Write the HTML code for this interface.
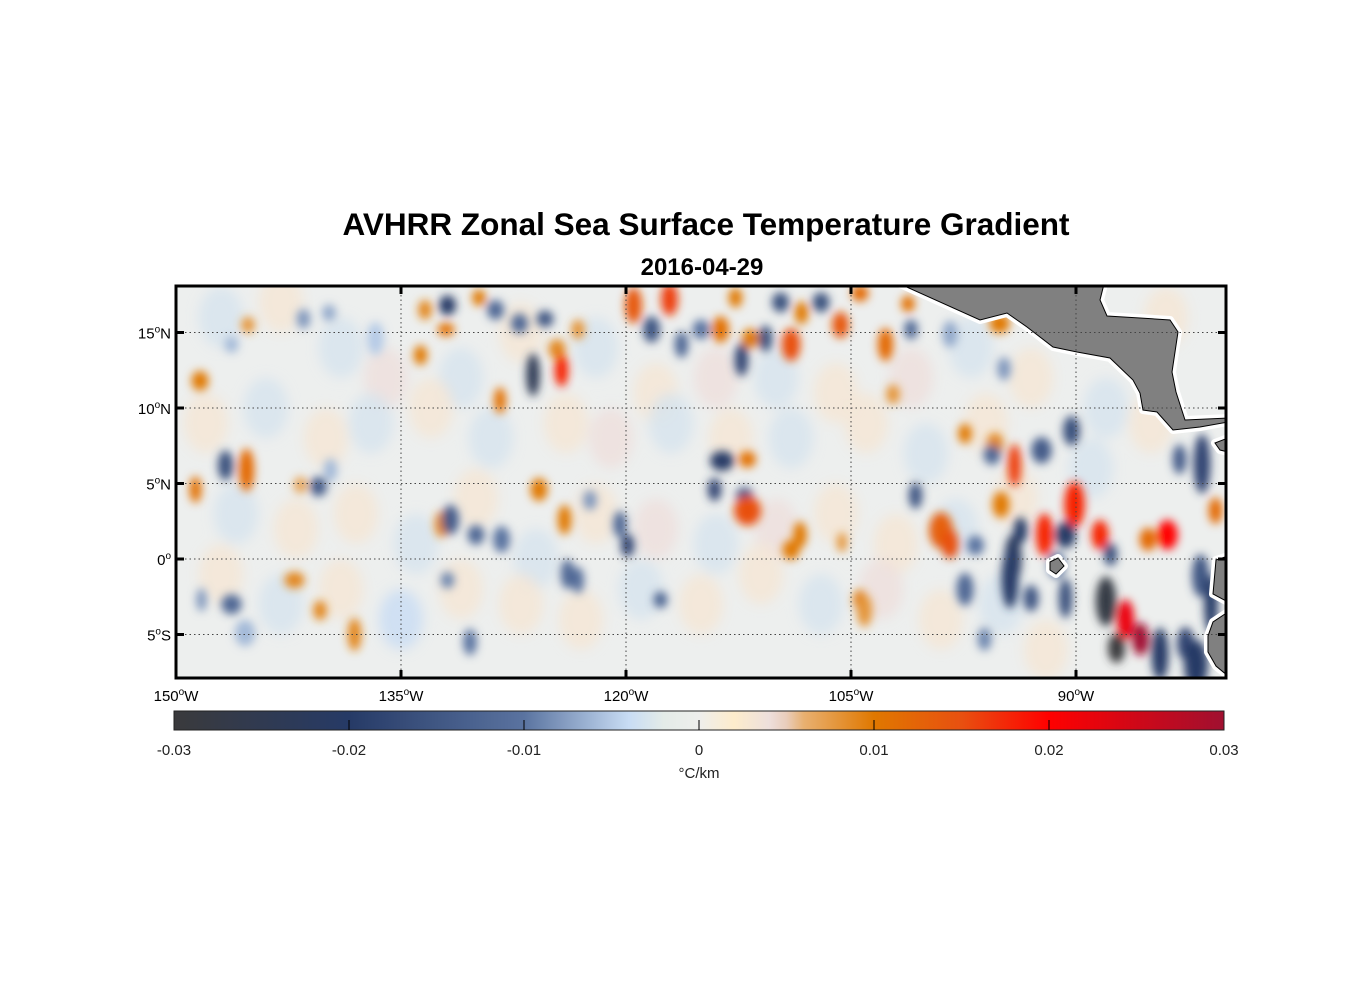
<!DOCTYPE html>
<html><head><meta charset="utf-8"><style>
body{margin:0;background:#fff;}
svg{display:block;font-family:"Liberation Sans",Arial,sans-serif;}
</style></head><body>
<svg id="chart" width="1356" height="1000">
<defs>
<clipPath id="mapclip"><rect x="176" y="286" width="1050" height="392"/></clipPath>
<filter id="blur" x="-20%" y="-20%" width="140%" height="140%"><feGaussianBlur stdDeviation="4.5"/></filter>
<filter id="blur2" x="-20%" y="-20%" width="140%" height="140%"><feGaussianBlur stdDeviation="6"/></filter>
<linearGradient id="cbgrad" x1="0" x2="1" y1="0" y2="0"></linearGradient>
</defs>
<text x="706" y="235" text-anchor="middle" font-size="31.5" font-weight="bold">AVHRR Zonal Sea Surface Temperature Gradient</text>
<text x="702" y="275" text-anchor="middle" font-size="24" font-weight="bold">2016-04-29</text>
<g id="map" clip-path="url(#mapclip)">
<rect x="176" y="286" width="1050" height="392" fill="#edefee"/>
<g id="faint" filter="url(#blur2)"></g>
<g id="blobs" filter="url(#blur)"></g>
<g id="land"></g>
<g id="grid"></g>
</g>
<rect x="176" y="286" width="1050" height="392" fill="none" stroke="#000" stroke-width="3"/>
<g id="ticks"></g>
<g id="colorbar"></g>
</svg>
<script>
const NS="http://www.w3.org/2000/svg";
const lonTicks=[-150,-135,-120,-105,-90];
const lonLabels=["150","135","120","105","90"];
const latTicks=[15,10,5,0,-5];
const latLabels=["15","10","5","0","5"];
const cbTicks=[-0.03,-0.02,-0.01,0,0.01,0.02,0.03];
const cbLabels=["-0.03","-0.02","-0.01","0","0.01","0.02","0.03"];
// blob data: lon, lat, half-width (deg), half-height (deg), value (°C/km)
const blobLon=[-148.4,-146.3,-145.2,-141.5,-139.8,-136.7,-133.7,-131.9,-132,-133.4,-128.7,-129.8,-128.4,-127.1,-125.4,-124.6,-126.2,-124.3,-123.2,-119.5,-117.1,-118.3,-116.3,-115,-113.7,-111.7,-112.7,-112.3,-110.7,-109.7,-109,-108.3,-107,-105.7,-102.7,-104.4,-101.2,-101,-102.2,-98.4,-95.1,-94.8,
-148.7,-146.7,-145.3,-141.7,-140.5,-139.7,-132.3,-131.7,-130,-128.3,-125.8,-124.1,-122.4,-120.4,-119.9,-113.6,-111.9,-114.1,-112.1,-111.9,-108.4,-109,-105.6,-100.7,-99,-98.4,-96.7,-97.4,-95.4,-92.3,-94.1,-90.3,-93.7,-94.2,-94.4,-93,-92.1,-90.1,-90.7,-91.3,-88.4,-87.7,-90.7,-85.2,-83.9,-83.1,-81.6,-80.7,-81.7,-81,-86.7,-85.7,-84.4,-82.7,-82,-88,-87.3,-97.4,-95.6,-95,
-148.3,-146.3,-145.4,-142.1,-140.4,-138.1,-131.9,-130.4,-123.9,-123.2,-117.7,-104.4,-104.1,-96.1];
const blobLat=[11.8,14.2,15.5,15.9,16.3,14.6,13.5,16.8,15.2,16.5,16.5,17.3,10.5,15.6,15.9,13.9,12.2,12.5,15.2,16.8,17.2,15.2,14.2,15.2,15.2,14.6,17.3,13.2,14.6,17,14.2,16.3,17,15.5,14.2,17.6,16.9,15.2,10.9,14.9,15.6,12.6,
4.6,6.2,5.9,4.9,4.8,5.9,2.3,2.6,1.6,1.3,4.6,2.6,3.9,2.3,0.9,6.5,6.6,4.6,4.2,3.2,1.6,0.6,1.1,4.2,1.9,1,0.9,8.3,7.6,7.2,6.2,8.5,1.9,0,-1.3,-2.6,1.6,3.6,1.6,-0.4,1.6,0.3,-2.6,1.3,1.6,6.6,6.3,3.2,-1.1,-3,-4,-5.3,-6.3,-5.6,-7,-2.8,-5.9,-2,6.9,3.6,
-2.7,-3,-4.9,-1.4,-3.4,-5,-1.4,-5.5,-1,-1.4,-2.7,-2.7,-3.4,-5.3];
const blobRx=[0.5,0.4,0.4,0.4,0.4,0.5,0.4,0.5,0.5,0.4,0.5,0.4,0.35,0.5,0.5,0.5,0.4,0.4,0.4,0.5,0.5,0.5,0.4,0.5,0.5,0.5,0.4,0.4,0.4,0.5,0.55,0.4,0.5,0.5,0.45,0.5,0.4,0.4,0.4,0.45,0.6,0.4,
0.35,0.45,0.45,0.4,0.5,0.4,0.4,0.5,0.5,0.5,0.5,0.4,0.4,0.4,0.4,0.7,0.5,0.4,0.5,0.8,0.4,0.5,0.3,0.4,0.7,0.5,0.5,0.4,0.5,0.6,0.4,0.5,0.4,0.5,0.5,0.45,0.5,0.6,0.6,0.5,0.5,0.4,0.4,0.5,0.6,0.4,0.5,0.4,0.5,0.4,0.5,0.5,0.5,0.5,0.7,0.6,0.5,0.5,0.5,0.5,0.3,0.6,0.6,0.6,
0.4,0.4,0.4,0.4,0.4,0.35,0.4,0.4,0.45,0.4,0.5,0.5,0.4,0.5];
const blobRy=[0.6,0.5,0.5,0.6,0.5,1,0.6,0.6,0.4,0.6,0.6,0.5,0.8,0.6,0.5,0.6,1.3,1,0.6,1.1,1,0.8,0.8,0.6,0.8,0.6,0.6,1,0.8,0.6,1,0.7,0.6,0.8,1,0.5,0.5,0.6,0.6,0.8,0.6,0.7,
0.8,0.9,1.3,0.5,0.6,0.7,0.8,0.9,0.6,0.8,0.7,0.9,0.6,0.8,0.7,0.6,0.5,0.7,0.5,0.9,0.8,0.6,0.6,0.8,1.1,0.9,0.6,0.6,0.7,0.8,1.3,0.9,0.8,1.5,1.8,0.8,1.3,1.4,0.8,0.8,0.9,0.7,1.2,0.7,0.9,0.9,1.8,0.8,1.3,1.8,1.2,1,1.6,1,1.5,1.5,0.9,1,0.6,0.8,0.7,
0.6,0.8,0.5,0.6,1,0.5,0.8,0.9,0.8,0.5,0.6,1,0.7,0.6];
const blobVal=[0.010,-0.006,0.008,-0.008,-0.007,-0.005,0.010,-0.020,0.011,0.009,-0.012,0.010,0.011,-0.012,-0.015,0.009,-0.024,0.018,0.008,0.014,0.016,-0.015,-0.012,-0.010,0.011,0.010,0.010,-0.018,-0.016,-0.016,0.015,0.010,-0.016,0.014,0.012,0.012,0.011,-0.012,0.008,-0.007,0.010,-0.008,
0.011,-0.016,0.012,0.007,-0.014,-0.006,0.009,-0.014,-0.012,-0.010,0.010,0.010,-0.008,-0.012,-0.018,-0.020,0.011,-0.018,-0.015,0.015,0.010,0.010,0.008,-0.015,0.013,0.015,-0.010,0.010,0.009,-0.014,0.016,-0.016,-0.020,-0.022,-0.020,-0.015,0.018,0.018,-0.020,-0.012,0.018,-0.016,-0.016,0.012,0.020,-0.014,-0.018,0.012,-0.015,-0.020,0.022,0.030,-0.020,-0.018,-0.020,-0.028,-0.030,-0.012,-0.012,0.010,-0.008,-0.012,
-0.006,0.009,0.009,0.009,-0.009,-0.010,-0.012,-0.011,-0.013,0.010,0.008,-0.009,0.009,0.010];
// faint background texture blobs (weak gradients)
const faintLon=[-147,-143,-139,-136,-131,-127,-122,-118,-114,-110,-106,-101,-97,-93,-88,-84,-148,-144,-140,-137,-133,-129,-124,-121,-117,-113,-109,-104,-100,-96,-146,-142,-138,-134,-130,-126,-122,-118,-114,-110,-106,-102,-98,-94,-89,-85,-147,-143,-139,-135,-131,-127,-123,-119,-115,-111,-107,-103,-99,-95,-92];
const faintLat=[16,17,14,12,12,15,14,11,12,12,11,12,14,12,10,16,9,10,8,9,10,8,9,8,9,8,8,9,7,9,3,2,3,1,4,0,3,2,1,2,3,1,2,4,6,9,-1,-3,-2,-4,-2,-3,-4,-2,-3,-1,-3,-2,-4,-3,-6];
const faintVal=[-0.003,0.003,-0.003,0.004,-0.003,0.003,-0.003,0.003,0.004,-0.003,0.003,0.004,-0.003,0.003,-0.003,0.003,0.003,-0.003,0.003,-0.003,0.003,-0.003,0.003,0.004,-0.003,0.003,-0.003,0.003,-0.003,0.003,-0.003,0.003,0.003,-0.003,0.003,-0.003,0.003,0.004,-0.003,0.004,0.003,0.003,-0.003,0.003,-0.003,0.003,0.003,-0.003,0.003,-0.004,0.003,0.003,0.003,-0.003,0.003,0.003,-0.003,0.004,0.003,-0.003,0.003];

const X0=176,X1=1226,Y0=286,Y1=678;
const xOf=lon=>X0+(lon+150)*15;
const yOf=lat=>559-lat*15.1;
const cStops=[[-0.03,[58,58,60]],[-0.02,[38,58,102]],[-0.01,[90,115,160]],[-0.004,[200,220,244]],[-0.002,[228,236,232]],[0,[238,238,236]],[0.002,[253,236,204]],[0.0045,[234,220,224]],[0.006,[232,176,112]],[0.01,[224,120,0]],[0.015,[232,80,16]],[0.02,[255,0,0]],[0.03,[160,16,48]]];
function cmap(v){
  v=Math.max(-0.03,Math.min(0.03,v));
  for(let i=0;i<cStops.length-1;i++){
    const [a,ca]=cStops[i],[b,cb]=cStops[i+1];
    if(v<=b){const t=(v-a)/(b-a);const c=ca.map((x,k)=>Math.round(x+(cb[k]-x)*t));return `rgb(${c})`;}
  }
  return "rgb(160,16,48)";
}
function mk(tag,attrs,parent){const e=document.createElementNS(NS,tag);for(const k in attrs)e.setAttribute(k,attrs[k]);parent.appendChild(e);return e;}

const fg=document.getElementById('faint');
for(let i=0;i<faintLon.length;i++){
  const e=mk('ellipse',{cx:xOf(faintLon[i]),cy:yOf(faintLat[i]),rx:22,ry:30,fill:cmap(faintVal[i]),opacity:0.8},fg);
  
  
}
const bg=document.getElementById('blobs');
for(let i=0;i<blobLon.length;i++){
  const e=mk('ellipse',{cx:xOf(blobLon[i]),cy:yOf(blobLat[i]),rx:blobRx[i]*17,ry:blobRy[i]*16.5,fill:cmap(blobVal[i])},bg);
  
  
}
const land=document.getElementById('land');
const lands=[
 "900,284 980,320 1007,313 1027,327 1053,347 1077,352 1110,358 1133,380 1140,393 1143,410 1157,412 1173,430 1200,427 1228,422 1228,418 1185,420 1176,392 1172,372 1178,332 1170,320 1140,318 1107,316 1100,300 1104,284",
 "1228,556 1216,560 1213,594 1228,602",
 "1228,612 1213,622 1208,636 1208,652 1216,666 1228,676",
 "1050,562 1058,558 1064,566 1056,574 1050,570",
 "1215,443 1228,438 1228,452 1220,450"];
lands.forEach(p=>mk('polygon',{points:p,fill:"#fff",stroke:"#fff","stroke-width":8,"stroke-linejoin":"round"},land));
lands.forEach((p,i)=>{const e=mk('polygon',{points:p,fill:"#808080",stroke:"#000","stroke-width":1},land);
 
 });
const grid=document.getElementById('grid');
lonTicks.slice(1).forEach(l=>{const e=mk('line',{x1:xOf(l),x2:xOf(l),y1:Y0,y2:Y1,stroke:"#444","stroke-width":1,"stroke-dasharray":"1.5,3"},grid);
 });
latTicks.forEach(l=>{const e=mk('line',{x1:X0,x2:X1,y1:yOf(l),y2:yOf(l),stroke:"#444","stroke-width":1,"stroke-dasharray":"1.5,3"},grid);
 });
const tk=document.getElementById('ticks');
lonTicks.forEach((l,i)=>{const x=xOf(l);
 mk('line',{x1:x,x2:x,y1:Y0,y2:Y0+8,stroke:"#000","stroke-width":3},tk);
 mk('line',{x1:x,x2:x,y1:Y1,y2:Y1-8,stroke:"#000","stroke-width":3},tk);
 const t=mk('text',{x:x,y:701,"text-anchor":"middle","font-size":15},tk);
 
 t.innerHTML=lonLabels[i]+'<tspan dy="-6" font-size="10">o</tspan><tspan dy="6">W</tspan>';});
latTicks.forEach((l,i)=>{const y=yOf(l);
 mk('line',{x1:X0,x2:X0+8,y1:y,y2:y,stroke:"#000","stroke-width":3},tk);
 mk('line',{x1:X1,x2:X1-8,y1:y,y2:y,stroke:"#000","stroke-width":3},tk);
 const t=mk('text',{x:171,y:y+6,"text-anchor":"end","font-size":15},tk);
 
 const h=l>0?'N':(l<0?'S':'');
 t.innerHTML=latLabels[i]+'<tspan dy="-6" font-size="10">o</tspan><tspan dy="6">'+h+'</tspan>';});
const grad=document.getElementById('cbgrad');
for(let k=0;k<=60;k++){const v=-0.03+k*0.001;mk('stop',{offset:(k/60),"stop-color":cmap(v)},grad);}
const cb=document.getElementById('colorbar');
const cx=v=>174+(v+0.03)/0.06*1050;
mk('rect',{x:174,y:711,width:1050,height:19,fill:"url(#cbgrad)",stroke:"#222","stroke-width":1},cb);
cbTicks.forEach((v,i)=>{
 if(i>0&&i<cbTicks.length-1)mk('line',{x1:cx(v),x2:cx(v),y1:730,y2:720,stroke:"#000","stroke-width":1},cb);
 const t=mk('text',{x:cx(v),y:755,"text-anchor":"middle","font-size":15,fill:"#222"},cb);
 
 t.textContent=cbLabels[i];});
const u=mk('text',{x:699,y:778,"text-anchor":"middle","font-size":15,fill:"#222"},cb);

u.textContent="°C/km";
</script>
</body></html>
